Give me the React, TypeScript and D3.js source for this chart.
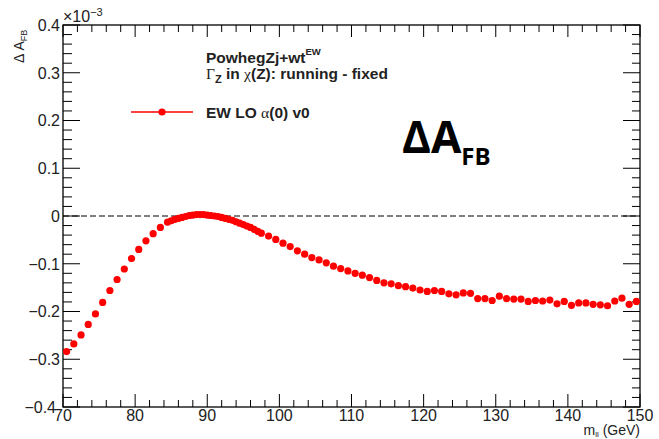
import React from "react";
import * as d3 from "d3";

const massGeV: number[] = [
  70.5, 71.5, 72.5, 73.5, 74.5, 75.5, 76.5, 77.5, 78.5, 79.5, 80.5, 81.5, 82.5, 83.5, 84.5,
  85, 85.5, 86, 86.5, 87, 87.5, 88, 88.5, 89, 89.5, 90, 90.5, 91, 91.5, 92, 92.5, 93, 93.5,
  94, 94.5, 95, 95.5, 96, 96.5, 97, 97.5,
  98.5, 99.5, 100.5, 101.5, 102.5, 103.5, 104.5, 105.5, 106.5, 107.5, 108.5, 109.5, 110.5,
  111.5, 112.5, 113.5, 114.5, 115.5, 116.5, 117.5, 118.5, 119.5, 120.5, 121.5, 122.5, 123.5,
  124.5, 125.5, 126.5, 127.5, 128.5, 129.5, 130.5, 131.5, 132.5, 133.5, 134.5, 135.5, 136.5,
  137.5, 138.5, 139.5, 140.5, 141.5, 142.5, 143.5, 144.5, 145.5, 146.5, 147.5, 148.5, 149.5,
];

const deltaAfb: number[] = [
  -0.284, -0.268, -0.249, -0.227, -0.205, -0.181, -0.156, -0.133, -0.111, -0.089, -0.07, -0.052, -0.037, -0.024, -0.013,
  -0.01, -0.007, -0.005, -0.003, -0.001, 0.001, 0.002, 0.003, 0.003, 0.003, 0.002, 0.001, 0.0, -0.001, -0.003, -0.005, -0.007, -0.009,
  -0.012, -0.015, -0.018, -0.021, -0.024, -0.028, -0.032, -0.036,
  -0.042, -0.049, -0.057, -0.064, -0.073, -0.08, -0.087, -0.092, -0.098, -0.105, -0.11, -0.115, -0.12,
  -0.124, -0.129, -0.135, -0.14, -0.142, -0.146, -0.148, -0.151, -0.155, -0.158, -0.156, -0.158, -0.163,
  -0.165, -0.161, -0.162, -0.173, -0.173, -0.177, -0.168, -0.173, -0.174, -0.174, -0.179, -0.177, -0.178,
  -0.176, -0.184, -0.179, -0.187, -0.182, -0.182, -0.185, -0.186, -0.188, -0.178, -0.172, -0.185, -0.179,
];

const xMajorTicks: number[] = [70, 80, 90, 100, 110, 120, 130, 140, 150];
const yMajorTicks: number[] = [0.4, 0.3, 0.2, 0.1, 0, -0.1, -0.2, -0.3, -0.4];
const yTickLabels: string[] = ["0.4", "0.3", "0.2", "0.1", "0", "\u22120.1", "\u22120.2", "\u22120.3", "\u22120.4"];

const W = 659;
const H = 439;
const L = 63, R = 640, T = 25, B = 407;
const FONT = "'Liberation Sans', Arial, Helvetica, sans-serif";
const TXT = "#222";

export default function App() {
  const x = d3.scaleLinear().domain([70, 150]).range([L, R]);
  const y = d3.scaleLinear().domain([-0.4, 0.4]).range([B, T]);

  const xMinor = d3.range(70, 150.001, 2);
  const yMinor = d3.range(-0.4, 0.4001, 0.02);
  const isMajorX = (v: number) => Math.abs(v / 10 - Math.round(v / 10)) < 1e-6;
  const isMajorY = (v: number) => Math.abs(v * 10 - Math.round(v * 10)) < 1e-6;

  const pts = massGeV.map((m, i) => ({ m, v: deltaAfb[i] }));

  return (
    <svg width={W} height={H} style={{ position: "absolute", left: 0, top: 0, background: "#fff" }} fontFamily={FONT}>
      <rect x={0} y={0} width={W} height={H} fill="#fff" />
      {/* zero dashed line */}
      <line x1={L} x2={R} y1={y(0)} y2={y(0)} stroke="#000" strokeWidth={1} strokeDasharray="6,3" />

      {/* x ticks bottom and top */}
      {xMinor.map((v, i) => {
        const maj = isMajorX(v);
        const px = x(v);
        return (
          <g key={"xt" + i} stroke="#000" strokeWidth={1}>
            <line x1={px} x2={px} y1={B} y2={B - (maj ? 13 : 7)} />
            <line x1={px} x2={px} y1={T} y2={T + (maj ? 12 : 7)} />
          </g>
        );
      })}
      {/* y ticks left and right */}
      {yMinor.map((v, i) => {
        const maj = isMajorY(v);
        const py = y(v);
        return (
          <g key={"yt" + i} stroke="#000" strokeWidth={1}>
            <line x1={L} x2={L + (maj ? 17 : 9)} y1={py} y2={py} />
            <line x1={R} x2={R - (maj ? 17 : 8)} y1={py} y2={py} />
          </g>
        );
      })}

      {/* frame */}
      <rect x={L} y={T} width={R - L} height={B - T} fill="none" stroke="#000" strokeWidth={1.3} />

      {/* x tick labels */}
      {xMajorTicks.map((v) => (
        <text key={"xl" + v} x={x(v)} y={421} textAnchor="middle" fontSize={16} fill={TXT}>
          {v}
        </text>
      ))}
      {/* y tick labels */}
      {yMajorTicks.map((v, i) => (
        <text key={"yl" + i} x={i === yMajorTicks.length - 1 ? 56 : 60} y={y(v)} dy="0.36em" textAnchor="end" fontSize={16} fill={TXT}>
          {yTickLabels[i]}
        </text>
      ))}

      {/* exponent */}
      <text x={63} y={22} fontSize={16} fill={TXT}>
        ×10<tspan dy={-6} fontSize={11}>−3</tspan>
      </text>

      {/* y axis title */}
      <text transform="translate(24,63) rotate(-90)" fontSize={14} fill={TXT}>
        Δ A<tspan dy={3} fontSize={9}>FB</tspan>
      </text>

      {/* x axis title */}
      <text x={640} y={435} textAnchor="end" fontSize={14} fill={TXT}>
        m<tspan dy={1.5} fontSize={8}>ll</tspan><tspan dy={-1.5}> (GeV)</tspan>
      </text>

      {/* info text */}
      <text x={206} y={63} fontSize={15.5} fontWeight="bold" fill={TXT}>
        PowhegZj+wt<tspan dy={-8} fontSize={9.5}>EW</tspan>
      </text>
      <text x={206} y={79} fontSize={15.5} fontWeight="bold" fill={TXT}>
        <tspan fontWeight="normal" fontFamily="'Liberation Serif', serif">Γ</tspan>
        <tspan dy={4} fontSize={11}>Z</tspan>
        <tspan dy={-4}> in </tspan>
        <tspan fontWeight="normal" fontFamily="'Liberation Serif', serif">χ</tspan>
        <tspan>(Z): running - fixed</tspan>
      </text>

      {/* legend */}
      <line x1={131} x2={193} y1={112} y2={112} stroke="#ff0000" strokeWidth={1.5} />
      <circle cx={162} cy={112} r={3.6} fill="#ff0000" />
      <text x={206} y={118} fontSize={15.5} fontWeight="bold" fill={TXT}>
        EW LO  <tspan fontWeight="normal" fontFamily="'Liberation Serif', serif">α</tspan>(0) v0
      </text>

      {/* big label */}
      <text x={402} y={153} fontSize={44} fontWeight="bold" fill="#000" fontFamily="'Open Sans', 'Liberation Sans', sans-serif">
        ΔA<tspan dy={12} fontSize={24}>FB</tspan>
      </text>

      {/* data points */}
      {pts.map((p, i) => (
        <circle key={"p" + i} cx={x(p.m)} cy={y(p.v)} r={3.6} fill="#ff0000" />
      ))}
    </svg>
  );
}
